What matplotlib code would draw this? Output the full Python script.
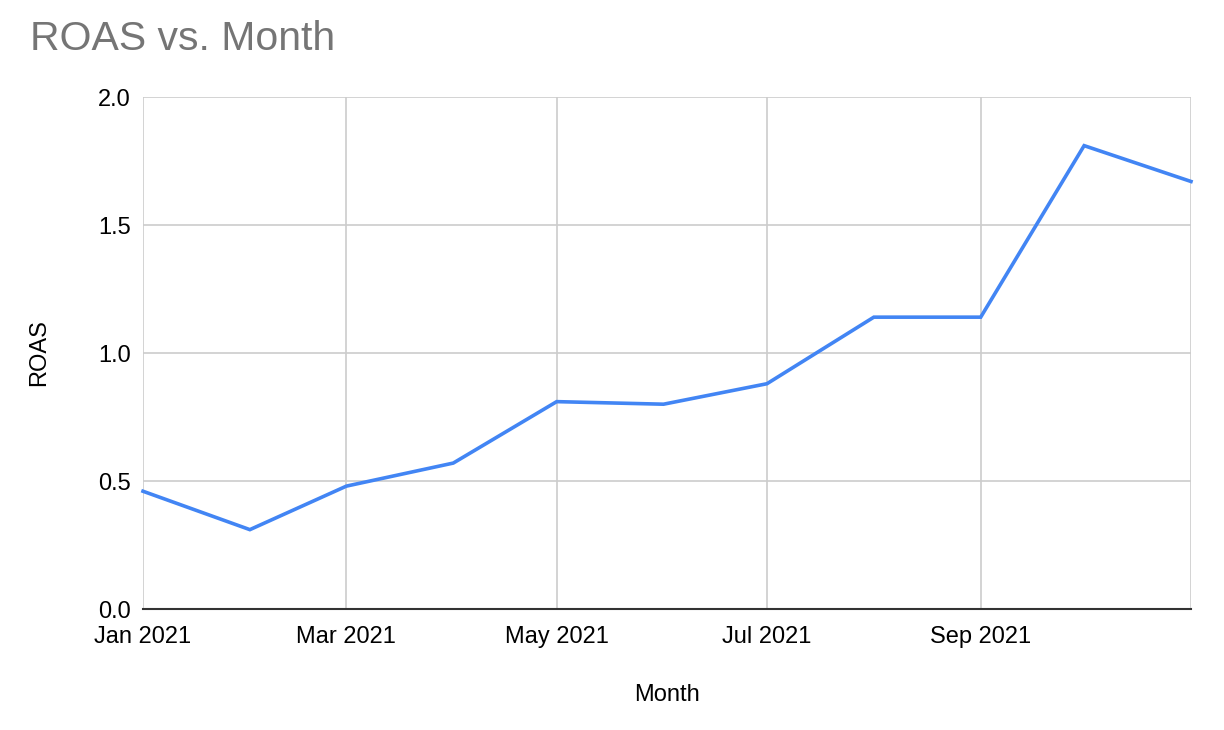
import numpy as np
import pandas as pd
import matplotlib
matplotlib.use('Agg')
import matplotlib.pyplot as plt
import matplotlib.dates as mdates

plt.rcParams['font.family'] = ['Liberation Sans', 'DejaVu Sans']

# data
months = ['2021-01', '2021-02', '2021-03', '2021-04', '2021-05', '2021-06',
          '2021-07', '2021-08', '2021-09', '2021-10', '2021-11']
roas = [0.46, 0.31, 0.48, 0.57, 0.81, 0.80, 0.88, 1.14, 1.14, 1.81, 1.67]
tick_months = ['2021-01', '2021-03', '2021-05', '2021-07', '2021-09']
tick_labels = ['Jan 2021', 'Mar 2021', 'May 2021', 'Jul 2021', 'Sep 2021']
y_ticks = [0.0, 0.5, 1.0, 1.5, 2.0]

dates = pd.to_datetime(months)
grid_c = '#cccccc'
fs = 17

fig = plt.figure(figsize=(12.24, 7.3), dpi=100)
ax = fig.add_axes([143/1224, 1-609/730, (1191-143)/1224, (609-97)/730])

ax.plot(dates, roas, color='#4285f4', lw=2.6, solid_joinstyle='miter', zorder=3, clip_on=False)

ax.set_xlim(dates[0], dates[-1])
ax.set_ylim(0, 2.0)

# vertical grid every 2 months incl. right edge
for d in pd.to_datetime(['2021-01', '2021-03', '2021-05', '2021-07', '2021-09', '2021-11']):
    ax.axvline(d, color=grid_c, lw=1.2, zorder=1)
for y in y_ticks[1:]:
    ax.axhline(y, color=grid_c, lw=1.2, zorder=1)

ax.set_xticks(pd.to_datetime(tick_months))
ax.set_xticklabels(tick_labels)
ax.set_yticks(y_ticks)
ax.set_yticklabels([f'{v:.1f}' for v in y_ticks])
ax.tick_params(length=0, labelsize=fs, colors='#000000')
ax.tick_params(axis='x', pad=12)
ax.tick_params(axis='y', pad=9)

for s in ['top', 'right', 'left']:
    ax.spines[s].set_visible(False)
ax.spines['bottom'].set_color('#333333')
ax.spines['bottom'].set_linewidth(1.5)
ax.spines['bottom'].set_zorder(4)

ax.set_xlabel('Month', fontsize=fs, labelpad=26)
ax.set_ylabel('ROAS', fontsize=fs, labelpad=34)

fig.text(30/1224, 1-39/730, 'ROAS vs. Month', fontsize=29.5, color='#757575',
         ha='left', va='center')

fig.savefig('out.png', dpi=100, facecolor='white')
